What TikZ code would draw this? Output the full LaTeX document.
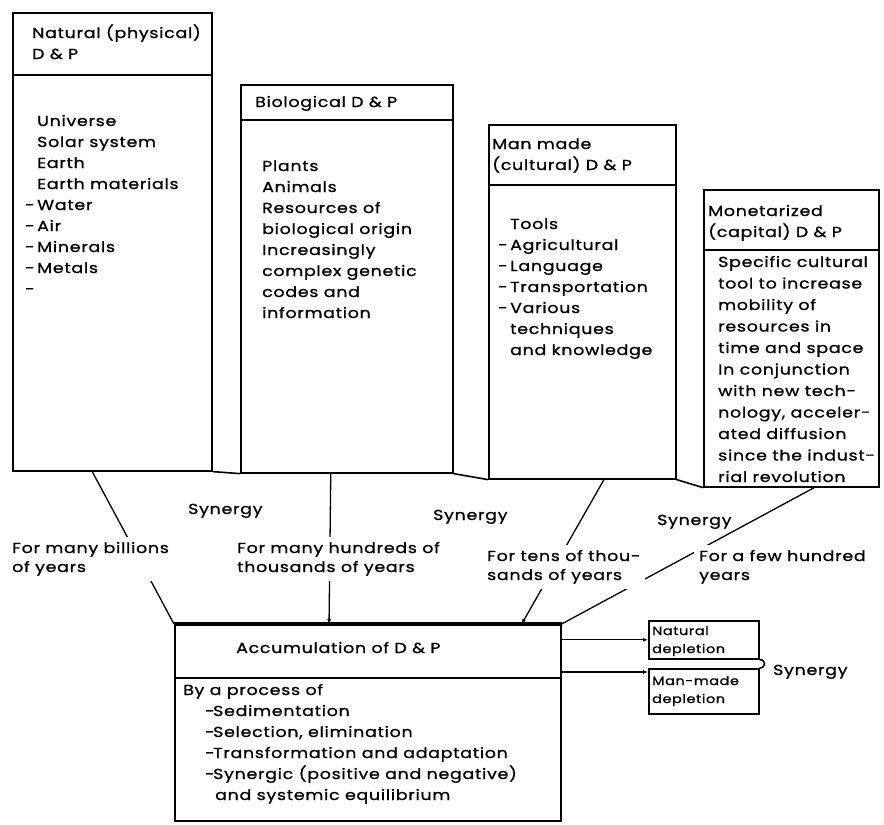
\documentclass[tikz,border=0pt]{standalone}
\usepackage{fontspec}
\setmainfont{Poppins}[FakeStretch=1.2, LetterSpace=5, FakeBold=1]
\usetikzlibrary{arrows.meta,calc}
\newcommand{\fs}{\fontsize{14.5}{21}\selectfont}
\newcommand{\fsw}{\fontsize{14.5}{21.5}\selectfont}
\newcommand{\fsl}{\fontsize{14.5}{19}\selectfont}
\newcommand{\fsm}{\fontsize{12}{18}\selectfont}
\newcommand{\dd}{\makebox[12pt][l]{-}}
\newcommand{\nd}{\hspace*{12pt}}
\begin{document}
\begin{tikzpicture}[x=1pt,y=-1pt,
  box/.style={draw, line width=1.6pt, anchor=north west, inner sep=0pt},
  txt/.style={anchor=base west, inner sep=0pt, align=left, font=\fs},
  lab/.style={anchor=base west, inner sep=5pt, align=left, fill=white, font=\fsl},
  conn/.style={line width=1.3pt},
  tip/.style={-{Latex[length=5pt,width=4pt]}}
]
\useasboundingbox[fill=white] (0,0) rectangle (884,825);

% upper boxes
\node[box, minimum width=199pt, minimum height=458pt] (b1) at (12,12) {};
\node[box, minimum width=212pt, minimum height=388pt] (b2) at (240,84) {};
\node[box, minimum width=187pt, minimum height=354pt] (b3) at (488,124) {};
\node[box, minimum width=175pt, minimum height=297pt] (b4) at (703,189) {};
\draw[line width=1.6pt] (b1.west |- 0,75) -- (b1.east |- 0,75);
\draw[line width=1.6pt] (b2.west |- 0,120) -- (b2.east |- 0,120);
\draw[line width=1.6pt] (b3.west |- 0,185) -- (b3.east |- 0,185);
\draw[line width=1.6pt] (b4.west |- 0,250) -- (b4.east |- 0,250);
\draw[line width=1.6pt] (b1.south east) -- (b2.south west);
\draw[line width=1.6pt] (b2.south east) -- (b3.south west);
\draw[line width=1.6pt] (b3.south east) -- (b4.south west);

% box texts (anchor = baseline of last line)
\node[txt] (h1) at (32,59) {Natural (physical)\\D \& P};
\node[txt] (t1) at (25,294) {\nd Universe\\\nd Solar system\\\nd Earth\\\nd Earth materials\\\dd Water\\\dd Air\\\dd Minerals\\\dd Metals\\\dd};
\node[txt] (h2) at (255,107) {Biological D \& P};
\node[txt] (t2) at (262,318) {Plants\\Animals\\Resources of\\biological origin\\Increasingly\\complex genetic\\codes and\\information};
\node[txt] (h3) at (492,170) {Man made\\(cultural) D \& P};
\node[txt] (t3) at (498,355) {\nd Tools\\\dd Agricultural\\\dd Language\\\dd Transportation\\\dd Various\\\nd techniques\\\nd and knowledge};
\node[txt] (h4) at (708,237) {Monetarized\\(capital) D \& P};
\node[txt, font=\fsw] (t4) at (718,482) {Specific cultural\\tool to increase\\mobility of\\resources in\\time and space\\In conjunction\\with new tech-\\nology, acceler-\\ated diffusion\\since the indust-\\rial revolution};

% accumulation box
\node[box, minimum width=386pt, minimum height=196pt] (acc) at (174,624) {};
\draw[line width=4pt] (acc.north west) -- (acc.north east);
\draw[line width=1.6pt] (acc.west |- 0,678) -- (acc.east |- 0,678);
\node[txt] (ha) at (236,653) {Accumulation of D \& P};
\node[txt] (ta) at (183,800) {By a process of\\\hspace*{22pt}\makebox[8pt][l]{-}Sedimentation\\\hspace*{22pt}\makebox[8pt][l]{-}Selection, elimination\\\hspace*{22pt}\makebox[8pt][l]{-}Transformation and adaptation\\\hspace*{22pt}\makebox[8pt][l]{-}Synergic (positive and negative)\\\hspace*{32pt}and systemic equilibrium};

% depletion boxes
\node[box, minimum width=110pt, minimum height=38pt] (nd) at (648,620) {};
\node[box, minimum width=110pt, minimum height=45pt] (md) at (648,668) {};
\node[anchor=base west, inner sep=0pt, align=left, font=\fsm] (tn) at (652,653) {Natural\\depletion};
\node[anchor=base west, inner sep=0pt, align=left, font=\fsm] (tm) at (652,703) {Man-made\\depletion};
\draw[conn, tip] (acc.east |- nd.west) -- (nd.west);
\coordinate (mdin) at ($(md.north west)+(0,4)$);
\draw[conn, tip] (acc.east |- mdin) -- (mdin);
\draw[line width=1.6pt] (nd.south east) to[out=0,in=0,looseness=2] (md.north east);
\node[txt] (sr) at (773,675) {Synergy};

% connectors
\draw[conn] ($(b1.south west)!0.40!(b1.south east)$) -- (acc.north west);
\draw[conn, tip] ($(b2.south west)!0.425!(b2.south east)$) -- ($(acc.north west)!0.40!(acc.north east)$);
\draw[conn, tip] ($(b3.south west)!0.615!(b3.south east)$) -- ($(acc.north west)!0.897!(acc.north east)$);
\draw[conn] ($(b4.south west)!0.63!(b4.south east)$) -- (acc.north east);

% labels
\node[txt] (s1) at (188,514) {Synergy};
\node[txt] (s2) at (433,520) {Synergy};
\node[txt] (s3) at (657,525) {Synergy};
\node[lab] (l1) at (7,572) {For many billions\\of years};
\node[lab] (l2) at (232,572) {For many hundreds of\\thousands of years};
\node[lab] (l3) at (482,580) {For tens of thou-\\sands of years};
\node[lab] (l4) at (694,580) {For a few hundred\\years};
\end{tikzpicture}
\end{document}
